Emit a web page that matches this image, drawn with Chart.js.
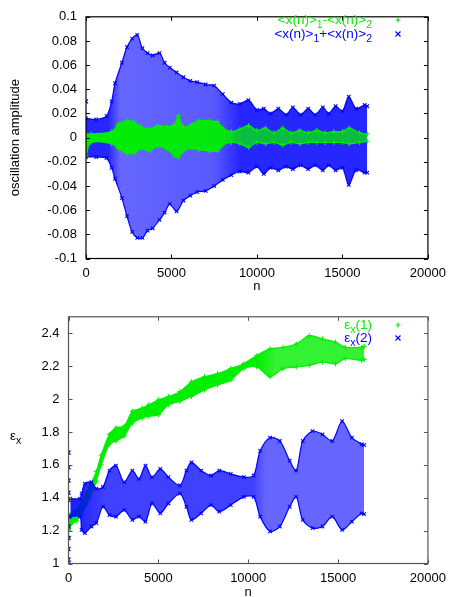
<!DOCTYPE html>
<html><head><meta charset="utf-8">
<script src="https://cdn.jsdelivr.net/npm/chart.js@4/dist/chart.umd.min.js"></script>
<style>
html,body{margin:0;padding:0;background:#fff;width:453px;height:597px;overflow:hidden}
canvas{display:block}
</style></head>
<body>
<canvas id="c1" width="453" height="300"></canvas>
<canvas id="c2" width="453" height="300"></canvas>
<script>
// ---------- top panel: oscillation amplitude ----------
const xTicks = [0, 5000, 10000, 15000, 20000];
const sumN =     [0, 600, 1200, 1500, 1700, 2100, 2400, 2700, 3000, 3300, 3600, 3900, 4300, 4600, 4900, 5300, 5700, 6100, 6500, 7000, 7500, 8000, 8500, 9000, 9500, 10000, 10400, 10800, 11250, 11700, 12100, 12550, 13000, 13400, 13850, 14200, 14600, 15000, 15370, 15800, 16300, 16450];
const sumUpper = [0.016, 0.015, 0.018, 0.030, 0.045, 0.062, 0.075, 0.082, 0.085, 0.074, 0.070, 0.068, 0.070, 0.062, 0.058, 0.054, 0.050, 0.047, 0.046, 0.044, 0.043, 0.036, 0.029, 0.028, 0.031, 0.023, 0.024, 0.020, 0.024, 0.019, 0.025, 0.019, 0.024, 0.019, 0.025, 0.020, 0.026, 0.022, 0.034, 0.024, 0.027, 0.026];
const sumLower = [-0.016, -0.016, -0.017, -0.025, -0.034, -0.050, -0.065, -0.078, -0.083, -0.083, -0.077, -0.075, -0.068, -0.062, -0.055, -0.061, -0.052, -0.048, -0.045, -0.044, -0.040, -0.035, -0.031, -0.028, -0.029, -0.024, -0.030, -0.025, -0.027, -0.024, -0.026, -0.023, -0.026, -0.023, -0.027, -0.023, -0.027, -0.025, -0.039, -0.027, -0.029, -0.029];
const sumSpikeN = [0];
const sumSpikeY = [0.030];
const diffN =     [0, 300, 1500, 1900, 2400, 2800, 3200, 3700, 4200, 4700, 5200, 5400, 5700, 6200, 6600, 7200, 7700, 8000, 8500, 9000, 9500, 10000, 10500, 11000, 11500, 12000, 12500, 13000, 13500, 14000, 14500, 15000, 15400, 16000, 16450];
const diffUpper = [0.003, 0.003, 0.005, 0.011, 0.014, 0.013, 0.009, 0.007, 0.010, 0.009, 0.011, 0.018, 0.009, 0.011, 0.014, 0.014, 0.013, 0.008, 0.005, 0.007, 0.010, 0.006, 0.008, 0.004, 0.008, 0.004, 0.006, 0.004, 0.006, 0.004, 0.005, 0.005, 0.008, 0.004, 0.003];
const diffLower = [-0.015, -0.004, -0.005, -0.009, -0.013, -0.013, -0.009, -0.011, -0.007, -0.009, -0.015, -0.016, -0.011, -0.009, -0.010, -0.011, -0.011, -0.006, -0.004, -0.005, -0.008, -0.004, -0.005, -0.004, -0.006, -0.004, -0.005, -0.004, -0.004, -0.004, -0.004, -0.004, -0.005, -0.004, -0.003];

// ---------- bottom panel: emittance ----------
const eps1N =     [0, 250, 450, 730, 1000, 1185, 1550, 1823, 2280, 2644, 3100, 3555, 4100, 4467, 5013, 5560, 6200, 6840, 7566, 8295, 9025, 9754, 10483, 11212, 11942, 12671, 13400, 14130, 14859, 15405, 16317, 16450];
const eps1Upper = [1.30, 1.31, 1.32, 1.38, 1.43, 1.47, 1.56, 1.66, 1.785, 1.825, 1.835, 1.925, 1.945, 1.965, 1.995, 2.015, 2.045, 2.105, 2.135, 2.155, 2.185, 2.215, 2.265, 2.305, 2.315, 2.335, 2.385, 2.365, 2.345, 2.315, 2.315, 2.32];
const eps1Lower = [1.20, 1.25, 1.26, 1.30, 1.36, 1.40, 1.50, 1.60, 1.725, 1.745, 1.775, 1.855, 1.885, 1.895, 1.905, 1.965, 1.985, 2.015, 2.055, 2.085, 2.115, 2.185, 2.195, 2.135, 2.185, 2.195, 2.205, 2.225, 2.215, 2.245, 2.235, 2.24];
const eps1SpikeN = [0, 0, 0];
const eps1SpikeY = [1.16, 1.21, 1.25];
const eps2N =     [100, 640, 730, 910, 1276, 1550, 1914, 2280, 2644, 3100, 3555, 3920, 4284, 4650, 5105, 5560, 6200, 6563, 6840, 7384, 7931, 8386, 9025, 9754, 10300, 10665, 11212, 11760, 12306, 12671, 13035, 13582, 14130, 14676, 15223, 15770, 16317, 16450];
const eps2Upper = [1.395, 1.395, 1.425, 1.485, 1.495, 1.455, 1.465, 1.565, 1.595, 1.495, 1.565, 1.515, 1.595, 1.525, 1.575, 1.525, 1.475, 1.565, 1.615, 1.565, 1.535, 1.565, 1.545, 1.525, 1.535, 1.685, 1.765, 1.745, 1.625, 1.565, 1.745, 1.805, 1.785, 1.745, 1.865, 1.765, 1.725, 1.72];
const eps2Lower = [1.285, 1.285, 1.205, 1.185, 1.225, 1.245, 1.345, 1.295, 1.285, 1.325, 1.265, 1.285, 1.255, 1.365, 1.305, 1.365, 1.425, 1.345, 1.265, 1.305, 1.355, 1.315, 1.355, 1.405, 1.405, 1.285, 1.195, 1.225, 1.345, 1.405, 1.265, 1.215, 1.225, 1.285, 1.205, 1.255, 1.305, 1.30];
const eps2SpikeN = [0, 0, 0, 0, 0, 0, 0, 0, 0, 0, 0];
const eps2SpikeY = [1.675, 1.585, 1.505, 1.43, 1.385, 1.285, 1.225, 1.155, 1.088, 1.024, 1.004];

const GREEN = '#00ee00';
const BLUE = '#0000ff';
const FONT = "'Liberation Sans', Arial, sans-serif";

function pts(xs, ys) { return xs.map((x, i) => ({x: x, y: ys[i]})); }

// horizontal density gradient (style only)
function densityFill(rgb, stops) {
  return function (ctx) {
    const chart = ctx.chart;
    const ca = chart.chartArea;
    if (!ca) return 'rgba(' + rgb + ',0.7)';
    const xs = chart.scales.x;
    const g = chart.ctx.createLinearGradient(ca.left, 0, ca.right, 0);
    stops.forEach(s => {
      const f = Math.min(1, Math.max(0, (xs.getPixelForValue(s[0]) - ca.left) / (ca.right - ca.left)));
      g.addColorStop(f, 'rgba(' + rgb + ',' + s[1] + ')');
    });
    return g;
  };
}

function band(label, xs, up, lo, color, fillColor, style) {
  const common = {
    type: 'line', showLine: true, borderColor: color, borderWidth: 1.2, tension: 0.3,
    pointStyle: style, pointRadius: 2.5, pointBorderColor: color, pointBorderWidth: 1.1,
    pointBackgroundColor: color, pointHoverRadius: 2.5
  };
  return [
    Object.assign({}, common, {label: label, data: pts(xs, up), fill: '+1', backgroundColor: fillColor}),
    Object.assign({}, common, {label: label + ' lo', data: pts(xs, lo), fill: false, backgroundColor: color})
  ];
}
function spike(label, xs, ys, color, style) {
  return {type: 'line', label: label, data: pts(xs, ys), showLine: false, fill: false,
    pointStyle: style, pointRadius: 2.8, pointBorderColor: color, pointBorderWidth: 1.3,
    borderColor: color, backgroundColor: color};
}

// frame + inward mirrored ticks + legend + rich titles
function framePlugin(cfg) {
  return {
    id: 'frame' + cfg.id,
    afterDraw(chart) {
      const ctx = chart.ctx, ca = chart.chartArea, xs = chart.scales.x, ys = chart.scales.y;
      ctx.save();
      ctx.strokeStyle = cfg.frameColor; ctx.lineWidth = 1.2;
      ctx.strokeRect(ca.left, ca.top, ca.right - ca.left, ca.bottom - ca.top);
      ctx.lineWidth = 1;
      ctx.beginPath();
      xs.ticks.forEach(t => {
        const p = Math.round(xs.getPixelForValue(t.value)) + 0.5;
        ctx.moveTo(p, ca.bottom); ctx.lineTo(p, ca.bottom - 4);
        ctx.moveTo(p, ca.top); ctx.lineTo(p, ca.top + 4);
      });
      ys.ticks.forEach(t => {
        const p = Math.round(ys.getPixelForValue(t.value)) + 0.5;
        ctx.moveTo(ca.left, p); ctx.lineTo(ca.left + 4, p);
        ctx.moveTo(ca.right, p); ctx.lineTo(ca.right - 4, p);
      });
      ctx.stroke();
      // legend
      cfg.legend.forEach(row => {
        drawRich(ctx, row.parts, row.right, row.y, row.color, 'right');
        ctx.strokeStyle = row.color; ctx.lineWidth = 1.2;
        ctx.beginPath();
        const mx = row.mx, my = row.y - 4, r = 2.5;
        if (row.marker === '+') {
          ctx.moveTo(mx - r, my); ctx.lineTo(mx + r, my); ctx.moveTo(mx, my - r); ctx.lineTo(mx, my + r);
        } else {
          ctx.moveTo(mx - r, my - r); ctx.lineTo(mx + r, my + r); ctx.moveTo(mx - r, my + r); ctx.lineTo(mx + r, my - r);
        }
        ctx.stroke();
      });
      if (cfg.yTitle) drawRich(ctx, cfg.yTitle.parts, cfg.yTitle.x, cfg.yTitle.y, '#000', 'left');
      ctx.restore();
    }
  };
}
// parts: [text, kind] kind: 'n' normal, 'sub', 'sup'
function drawRich(ctx, parts, x, y, color, align) {
  const size = 13.5, small = 10.5;
  const widths = parts.map(p => {
    ctx.font = (p[1] === 'n' ? size : small) + 'px ' + FONT;
    return ctx.measureText(p[0]).width;
  });
  const total = widths.reduce((a, b) => a + b, 0);
  let cx = align === 'right' ? x - total : x;
  ctx.fillStyle = color; ctx.textBaseline = 'alphabetic'; ctx.textAlign = 'left';
  parts.forEach((p, i) => {
    ctx.font = (p[1] === 'n' ? size : small) + 'px ' + FONT;
    const dy = p[1] === 'sub' ? 4 : (p[1] === 'sup' ? -5 : 0);
    ctx.fillText(p[0], cx, y + dy);
    cx += widths[i];
  });
}

function numFmt(v) { return String(+(+v).toFixed(4)); }

function scales(yMin, yMax, yStep, yWidth, xHeight, xTitlePadBottom, yTitle) {
  return {
    x: {
      type: 'linear', min: 0, max: 20000,
      afterBuildTicks: s => { s.ticks = xTicks.map(v => ({value: v})); },
      grid: {display: false, drawTicks: false}, border: {display: false},
      ticks: {padding: 7, color: '#000', font: {family: FONT, size: 13}, callback: v => String(v), maxRotation: 0, autoSkip: false},
      title: {display: true, text: 'n', color: '#000', font: {family: FONT, size: 13}, padding: {top: 0, bottom: xTitlePadBottom}},
      afterFit: s => { s.height = xHeight; }
    },
    y: {
      type: 'linear', min: yMin, max: yMax,
      grid: {display: false, drawTicks: false}, border: {display: false},
      ticks: {stepSize: yStep, includeBounds: false, padding: 9, color: '#000', font: {family: FONT, size: 13}, callback: v => numFmt(v)},
      title: yTitle ? {display: true, text: yTitle, color: '#000', font: {family: FONT, size: 13}, padding: {top: 8, bottom: 0}} : {display: false},
      afterFit: s => { s.width = yWidth; }
    }
  };
}

const baseOpts = {
  responsive: false, animation: false, events: [],
  plugins: {legend: {display: false}, tooltip: {enabled: false}},
};

// ----- top chart (green drawn over blue) -----
const topDatasets = []
  .concat(band('<x(n)>1-<x(n)>2', diffN, diffUpper, diffLower, GREEN,
    densityFill('0,238,0', [[0, 1], [8000, 0.95], [9000, 0.75], [16500, 0.75]]), 'cross'))
  .concat([spike('sum spike', sumSpikeN, sumSpikeY, BLUE, 'crossRot')])
  .concat(band('<x(n)>1+<x(n)>2', sumN, sumUpper, sumLower, BLUE,
    densityFill('0,0,255', [[0, 0.85], [1300, 0.85], [2000, 0.6], [7500, 0.65], [9000, 0.85], [16500, 0.85]]), 'crossRot'));

new Chart(document.getElementById('c1'), {
  type: 'line',
  data: {datasets: topDatasets},
  options: Object.assign({}, baseOpts, {
    layout: {padding: {left: 0, right: 19.5, top: 9.5, bottom: 0}},
    scales: scales(-0.1, 0.1, 0.02, 86, 41.5, 6, 'oscillation amplitude')
  }),
  plugins: [framePlugin({
    id: 1, frameColor: '#000',
    legend: [
      {parts: [['<x(n)>', 'n'], ['1', 'sub'], ['-<x(n)>', 'n'], ['2', 'sub']], right: 372, y: 24, color: GREEN, mx: 398, marker: '+'},
      {parts: [['<x(n)>', 'n'], ['1', 'sub'], ['+<x(n)>', 'n'], ['2', 'sub']], right: 372, y: 38, color: BLUE, mx: 398, marker: 'x'}
    ]
  })]
});

// ----- bottom chart (blue drawn over green) -----
const botDatasets = []
  .concat([spike('eps2 spike', eps2SpikeN, eps2SpikeY, BLUE, 'crossRot')])
  .concat(band('eps2', eps2N, eps2Upper, eps2Lower, BLUE,
    densityFill('0,0,255', [[0, 0.9], [2000, 0.75], [6000, 0.75], [10300, 0.75], [11000, 0.6], [16500, 0.6]]), 'crossRot'))
  .concat(band('eps1', eps1N, eps1Upper, eps1Lower, GREEN,
    densityFill('0,238,0', [[0, 1], [10500, 1], [11500, 0.8], [16500, 0.8]]), 'cross'))
  .concat([spike('eps1 spike', eps1SpikeN, eps1SpikeY, GREEN, 'cross')]);

new Chart(document.getElementById('c2'), {
  type: 'line',
  data: {datasets: botDatasets},
  options: Object.assign({}, baseOpts, {
    layout: {padding: {left: 0, right: 19.5, top: 14, bottom: 0}},
    scales: scales(1, 2.5, 0.2, 68.5, 36.5, 0.2, null)
  }),
  plugins: [framePlugin({
    id: 2, frameColor: '#555',
    legend: [
      {parts: [['ε', 'n'], ['x', 'sub'], ['(1)', 'n']], right: 372, y: 29, color: GREEN, mx: 398, marker: '+'},
      {parts: [['ε', 'n'], ['x', 'sub'], ['(2)', 'n']], right: 372, y: 42, color: BLUE, mx: 398, marker: 'x'}
    ],
    yTitle: {parts: [['ε', 'n'], ['x', 'sub']], x: 10, y: 140}
  })]
});
</script>
</body></html>
